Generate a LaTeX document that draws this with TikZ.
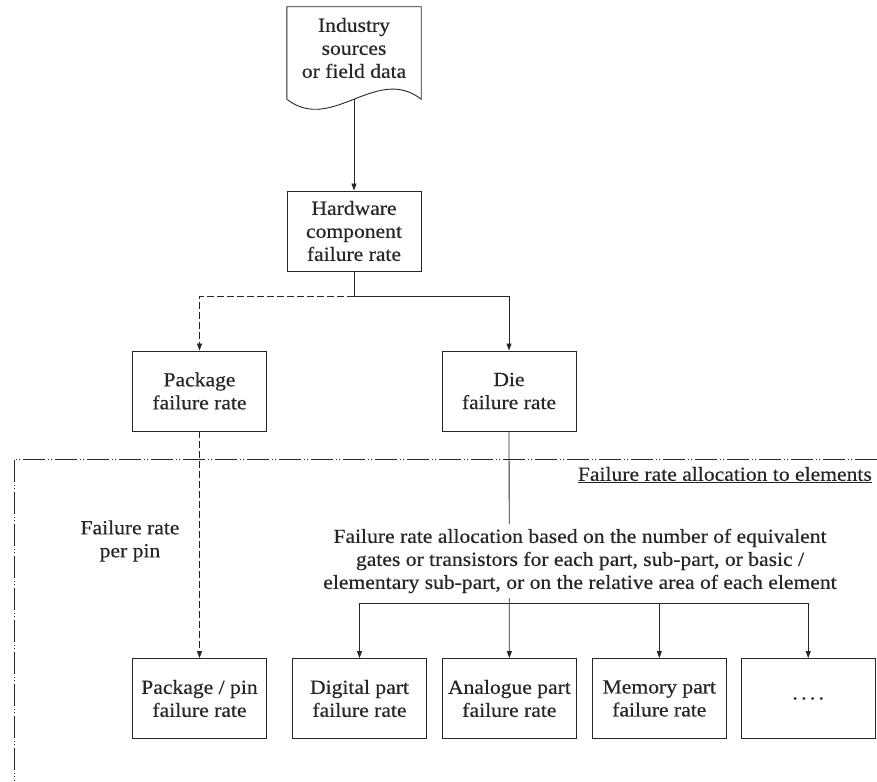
\documentclass[tikz,border=0pt]{standalone}
\usepackage{fontspec}
\setmainfont{Liberation Serif}[FakeStretch=1.08,FakeBold=0.4]
\usepackage{tikz}
\usetikzlibrary{arrows.meta,positioning}
\definecolor{ink}{HTML}{262626}
\newcommand{\boxfont}{\fontsize{20}{23}\selectfont}
\tikzset{
  ratebox/.style={draw=ink,line width=0.9pt,fill=white,align=center,
                  minimum width=134pt,minimum height=80pt,inner sep=2pt,
                  font=\boxfont,text=ink},
  note/.style={align=center,font=\boxfont,text=ink,inner sep=1pt},
  link/.style={ink,line width=0.8pt},
  flow/.style={-{Triangle[length=7pt,width=5pt]},link},
  pkgflow/.style={flow,dash pattern=on 7pt off 3pt},
  zone/.style={ink,line width=0.8pt,
               dash pattern=on 22pt off 3pt on 1pt off 2pt on 1pt off 3pt},
}

\begin{document}
\begin{tikzpicture}[x=1pt,y=-1pt]
\useasboundingbox (0,0) rectangle (877,781);

% data source (document symbol)
\node[note, minimum width=134pt, minimum height=82pt] (src) at (354,48)
  {Industry\\sources\\or field data};
\draw[link, line width=0.9pt] ([yshift=-10pt]src.south west) -- (src.north west)
  -- (src.north east) -- ([yshift=-10pt]src.south east)
  .. controls ([xshift=-45pt,yshift=25pt]src.south east)
  and ([xshift=45pt,yshift=-45pt]src.south west) .. ([yshift=-10pt]src.south west);
\coordinate (srcfoot) at (354,99);

\node[ratebox] (hw) at (354,231) {Hardware\\component\\failure rate};
\node[ratebox] (pkg) at (199.5,391) {Package\\failure rate};
\node[ratebox] (die) at (509,391) {Die\\failure rate};

\coordinate (split) at (354,296);
\draw[flow] (srcfoot) -- (hw);
\draw[link] (hw) -- (split);
\draw[pkgflow] (split) -| (pkg);
\draw[flow] (split) -| (die);

% allocation zone
\draw[zone] (877,459) -- (14,459) -- (14,781);
\node[note, anchor=east] (zonetitle) at (873,475)
  {\underline{Failure rate allocation to elements}};

% bottom row
\node[ratebox] (pin) at (199.5,698.5) {Package / pin\\failure rate};
\node[ratebox] (dig) at (359.5,698.5) {Digital part\\failure rate};
\node[ratebox, right=15pt of dig] (ana) {Analogue part\\failure rate};
\node[ratebox, right=15pt of ana] (mem) {Memory part\\failure rate};
\node[ratebox, right=14pt of mem] (more) {.\,.\,.\,.};

\node[note] (perpin) at (130,541) {Failure rate\\per pin};
\draw[pkgflow] (pkg) -- (pin);

\coordinate (fork) at (509,603);
\draw[flow] (die) -- (ana);
\draw[flow] (fork) -| (dig);
\draw[flow] (fork) -| (mem);
\draw[flow] (fork) -| (more);

\node[note, fill=white, inner ysep=5pt] (alloc) at (580,561)
  {Failure rate allocation based on the number of equivalent\\
   gates or transistors for each part, sub-part, or basic /\\
   elementary sub-part, or on the relative area of each element};

\end{tikzpicture}
\end{document}
